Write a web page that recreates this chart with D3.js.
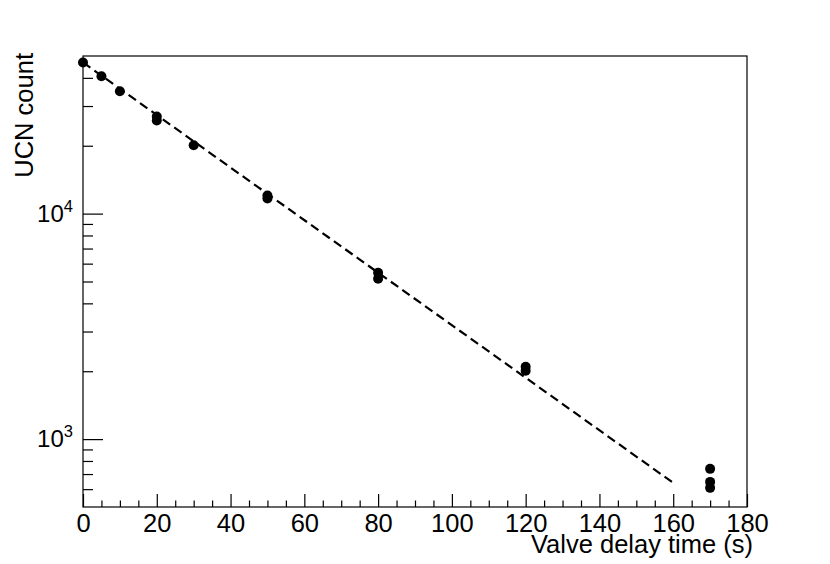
<!DOCTYPE html>
<html><head><meta charset="utf-8">
<script src="https://cdn.jsdelivr.net/npm/d3@7"></script>
<style>
html,body{margin:0;padding:0;background:#fff;}
text{font-family:"Liberation Sans",Arial,sans-serif;fill:#000;}
</style></head>
<body>
<svg id="chart" width="830" height="564"></svg>
<script>
const times  = [0, 5, 10, 20, 20, 30, 50, 50, 80, 80, 120, 120, 170, 170, 170];
const counts = [46800, 40680, 34900, 26950, 25870, 20100, 12020, 11660, 5472, 5146, 2094, 2010, 738, 646, 608];
const fitTimes  = [0, 160];
const fitCounts = [46800, 640];
const xMajorTicks = [0, 20, 40, 60, 80, 100, 120, 140, 160, 180];
const xMinorTicks = d3.range(0, 181, 5).filter(v => v % 20 !== 0);
const yMajorTicks = [1000, 10000];
const yMinorTicks = [600, 700, 800, 900, 2000, 3000, 4000, 5000, 6000, 7000, 8000, 9000, 20000, 30000, 40000];
const xTitle = "Valve delay time (s)";
const yTitle = "UCN count";

const L = 83, R = 747, T = 56, B = 507;
const svg = d3.select("#chart");
const x = d3.scaleLinear().domain([0, 180]).range([L, R]);
const y = d3.scaleLog().domain([500, 50000]).range([B, T]);

// frame
svg.append("rect").attr("x", L).attr("y", T).attr("width", R - L).attr("height", B - T)
  .attr("fill", "none").attr("stroke", "#000").attr("stroke-width", 1.2);

// x axis
const gx = svg.append("g").attr("transform", `translate(0,${B})`);
gx.call(d3.axisBottom(x).tickValues(xMajorTicks).tickSize(-13).tickPadding(0).tickFormat(d3.format("d")));
const gxm = svg.append("g").attr("transform", `translate(0,${B})`);
gxm.call(d3.axisBottom(x).tickValues(xMinorTicks).tickSize(-6.5).tickFormat(""));
[gx, gxm].forEach(g => { g.select(".domain").remove(); g.selectAll("line").attr("stroke", "#000").attr("stroke-width", 1.2); });
gx.selectAll("text").attr("y", 25).attr("dy", 0).attr("font-size", 25.5).attr("fill", "#000");

// y axis
const gy = svg.append("g").attr("transform", `translate(${L},0)`);
gy.call(d3.axisLeft(y).tickValues(yMajorTicks).tickSize(-20).tickFormat(""));
const gym = svg.append("g").attr("transform", `translate(${L},0)`);
gym.call(d3.axisLeft(y).tickValues(yMinorTicks).tickSize(-10).tickFormat(""));
[gy, gym].forEach(g => { g.select(".domain").remove(); g.selectAll("line").attr("stroke", "#000").attr("stroke-width", 1.2); });
yMajorTicks.forEach(v => {
  const t = svg.append("text").attr("x", L - 10).attr("y", y(v) + 8).attr("text-anchor", "end").attr("font-size", 24);
  t.append("tspan").text("10");
  t.append("tspan").attr("dy", -10).attr("font-size", 16.5).text(Math.round(Math.log10(v)));
});

// fit line
svg.append("path")
  .datum(fitTimes.map((t, i) => [t, fitCounts[i]]))
  .attr("d", d3.line().x(d => x(d[0])).y(d => y(d[1])))
  .attr("fill", "none").attr("stroke", "#000").attr("stroke-width", 2.2)
  .attr("stroke-dasharray", "9,5");

// points
svg.append("g").selectAll("circle").data(times.map((t, i) => [t, counts[i]])).join("circle")
  .attr("cx", d => x(d[0])).attr("cy", d => y(d[1])).attr("r", 5).attr("fill", "#000");

// titles
svg.append("text").attr("x", 753).attr("y", 553).attr("text-anchor", "end").attr("font-size", 25.5).text(xTitle);
svg.append("text").attr("transform", "translate(33,53) rotate(-90)").attr("text-anchor", "end").attr("font-size", 25.5).text(yTitle);
</script>
</body></html>
